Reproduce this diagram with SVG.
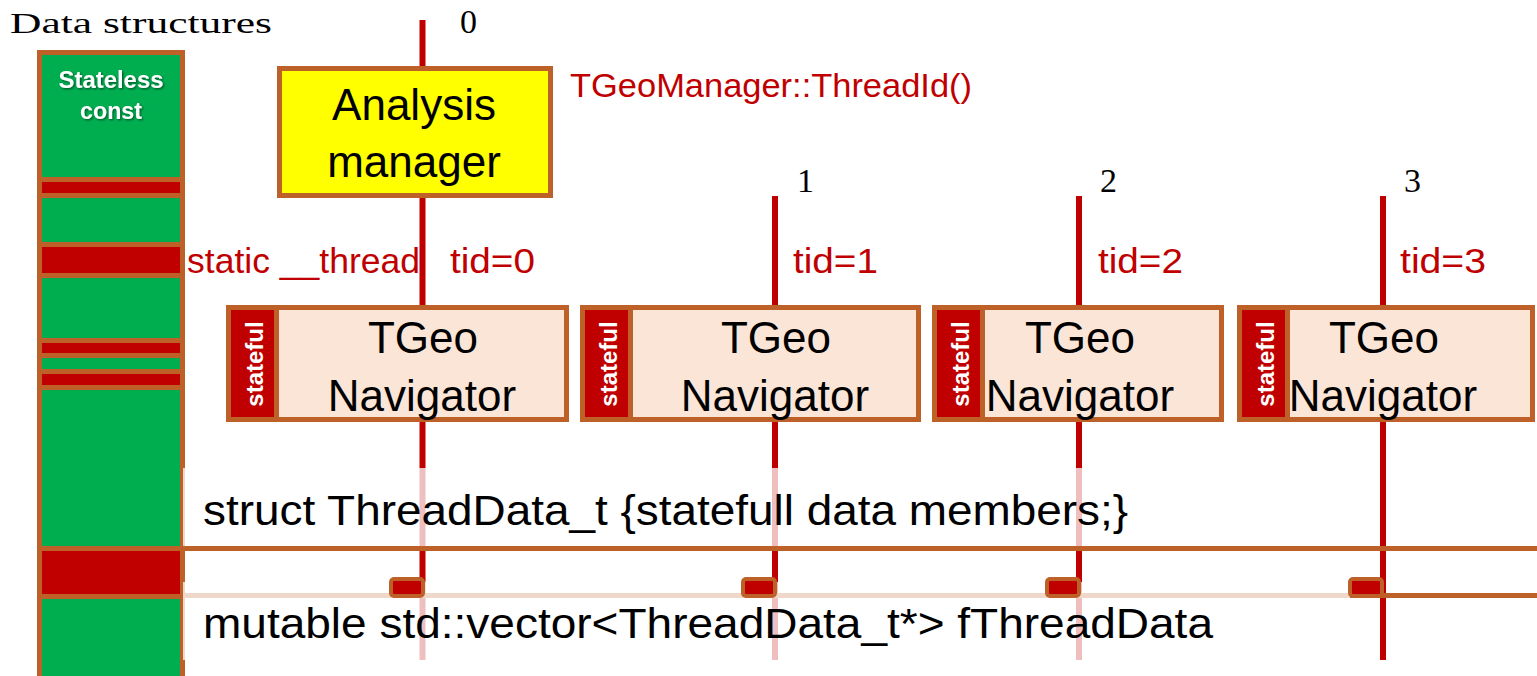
<svg xmlns="http://www.w3.org/2000/svg" width="1537" height="676" viewBox="0 0 1537 676">
  <defs>
    <filter id="shadow" x="-20%" y="-20%" width="140%" height="140%">
      <feDropShadow dx="1.2" dy="1.2" stdDeviation="0.8" flood-color="#000" flood-opacity="0.55"/>
    </filter>
  </defs>
  <style>
    .sans { font-family: "Liberation Sans", Arial, sans-serif; }
    .serif { font-family: "Liberation Serif", "Times New Roman", serif; }
    .tline { stroke: #C00000; stroke-width: 6; fill: none; }
    .bar { stroke: #BE6128; stroke-width: 5; fill: none; }
    .frame { stroke: #BE6128; stroke-width: 5; }
    .red { fill: #C00000; }
    .nav { fill: #FBE5D6; stroke: #BE6128; stroke-width: 5; }
    .stateful { fill: #C00000; stroke: #BE6128; stroke-width: 5; }
    .slot { fill: #C00000; stroke: #BE6128; stroke-width: 4; }
    .veil { fill: #FFFFFF; fill-opacity: 0.75; }
    .big { font-size: 44px; fill: #000; text-anchor: middle; }
    .tid { font-size: 35px; fill: #C00000; }
    .num { font-size: 34px; fill: #000; }
    .vert { font-size: 24px; font-weight: bold; fill: #FFFFFF; text-anchor: middle; }
    .code { font-size: 42px; fill: #000; }
  </style>

  <!-- title -->
  <text class="serif" x="10" y="33" font-size="29" textLength="262" lengthAdjust="spacingAndGlyphs">Data structures</text>

  <!-- memory column: stateless const data with stateful slices -->
  <g id="data-column">
    <rect x="39.5" y="52.5" width="143" height="640" fill="#00AE50" class="frame"/>
    <rect x="39.5" y="179.5" width="143" height="16" class="red frame"/>
    <rect x="39.5" y="244.5" width="143" height="31" class="red frame"/>
    <rect x="39.5" y="340.5" width="143" height="15" class="red frame"/>
    <rect x="39.5" y="371.5" width="143" height="16" class="red frame"/>
    <rect x="39.5" y="548.5" width="143" height="48" class="red frame"/>
    <g class="sans" font-size="23" font-weight="bold" fill="#FFFFFF" text-anchor="middle" filter="url(#shadow)">
      <text x="111" y="88" textLength="105" lengthAdjust="spacingAndGlyphs">Stateless</text>
      <text x="111" y="119" textLength="62" lengthAdjust="spacingAndGlyphs">const</text>
    </g>
  </g>

  <!-- thread timelines and data links -->
  <g id="connectors">
    <line class="tline" x1="422.5" y1="20" x2="422.5" y2="660"/>
    <line class="tline" x1="775" y1="196" x2="775" y2="660"/>
    <line class="tline" x1="1079" y1="196" x2="1079" y2="660"/>
    <line class="tline" x1="1383" y1="196" x2="1383" y2="660"/>
    <line class="bar" x1="185" y1="548.5" x2="1537" y2="548.5"/>
    <line class="bar" x1="185" y1="595.5" x2="1537" y2="595.5"/>
  </g>

  <!-- translucent bands behind the code lines -->
  <rect class="veil" x="183" y="468" width="1167" height="78"/>
  <rect class="veil" x="183" y="582" width="1167" height="78"/>

  <!-- per-thread slots in fThreadData -->
  <g id="slot-0"><rect class="slot" x="391" y="579" width="32" height="17" rx="3"/></g>
  <g id="slot-1"><rect class="slot" x="743" y="579" width="32" height="17" rx="3"/></g>
  <g id="slot-2"><rect class="slot" x="1047" y="579" width="32" height="17" rx="3"/></g>
  <g id="slot-3"><rect class="slot" x="1350" y="579" width="32" height="17" rx="3"/></g>

  <!-- analysis manager -->
  <g id="analysis-manager">
    <rect x="279.5" y="68.5" width="271" height="127" fill="#FFFF00" class="frame"/>
    <text class="sans big" x="414" y="120">Analysis</text>
    <text class="sans big" x="414" y="177">manager</text>
  </g>
  <text class="sans" x="570" y="97" font-size="34" fill="#C00000" textLength="402" lengthAdjust="spacingAndGlyphs">TGeoManager::ThreadId()</text>

  <!-- thread numbers -->
  <text class="serif num" x="460" y="33">0</text>
  <text class="serif num" x="797" y="192">1</text>
  <text class="serif num" x="1100" y="192">2</text>
  <text class="serif num" x="1404" y="192">3</text>

  <!-- thread ids -->
  <text class="sans tid" x="187" y="273" textLength="233" lengthAdjust="spacingAndGlyphs">static __thread</text>
  <text class="sans tid" x="450" y="273" textLength="85" lengthAdjust="spacingAndGlyphs">tid=0</text>
  <text class="sans tid" x="793" y="273" textLength="85" lengthAdjust="spacingAndGlyphs">tid=1</text>
  <text class="sans tid" x="1098" y="273" textLength="85" lengthAdjust="spacingAndGlyphs">tid=2</text>
  <text class="sans tid" x="1400" y="273" textLength="86" lengthAdjust="spacingAndGlyphs">tid=3</text>

  <!-- navigators, one per thread -->
  <g id="navigator-0">
    <rect class="nav" x="228.5" y="307.5" width="338" height="112"/>
    <rect class="stateful" x="228.5" y="307.5" width="48" height="112"/>
    <text class="sans vert" transform="translate(263,364) rotate(-90)">stateful</text>
    <text class="sans big" x="423" y="353">TGeo</text>
    <text class="sans big" x="422" y="411">Navigator</text>
  </g>
  <g id="navigator-1">
    <rect class="nav" x="582.5" y="307.5" width="336" height="112"/>
    <rect class="stateful" x="582.5" y="307.5" width="48" height="112"/>
    <text class="sans vert" transform="translate(617,364) rotate(-90)">stateful</text>
    <text class="sans big" x="776" y="353">TGeo</text>
    <text class="sans big" x="775" y="411">Navigator</text>
  </g>
  <g id="navigator-2">
    <rect class="nav" x="934.5" y="307.5" width="287" height="112"/>
    <rect class="stateful" x="934.5" y="307.5" width="48" height="112"/>
    <text class="sans vert" transform="translate(969,364) rotate(-90)">stateful</text>
    <text class="sans big" x="1080" y="353">TGeo</text>
    <text class="sans big" x="1080" y="411">Navigator</text>
  </g>
  <g id="navigator-3">
    <rect class="nav" x="1239.5" y="307.5" width="293" height="112"/>
    <rect class="stateful" x="1239.5" y="307.5" width="48" height="112"/>
    <text class="sans vert" transform="translate(1274,364) rotate(-90)">stateful</text>
    <text class="sans big" x="1384" y="353">TGeo</text>
    <text class="sans big" x="1383" y="411">Navigator</text>
  </g>

  <!-- code declarations -->
  <text class="sans code" x="203" y="525" textLength="925" lengthAdjust="spacingAndGlyphs">struct ThreadData_t {statefull data members;}</text>
  <text class="sans code" x="203" y="638" textLength="1010" lengthAdjust="spacingAndGlyphs">mutable std::vector&lt;ThreadData_t*&gt; fThreadData</text>
</svg>
